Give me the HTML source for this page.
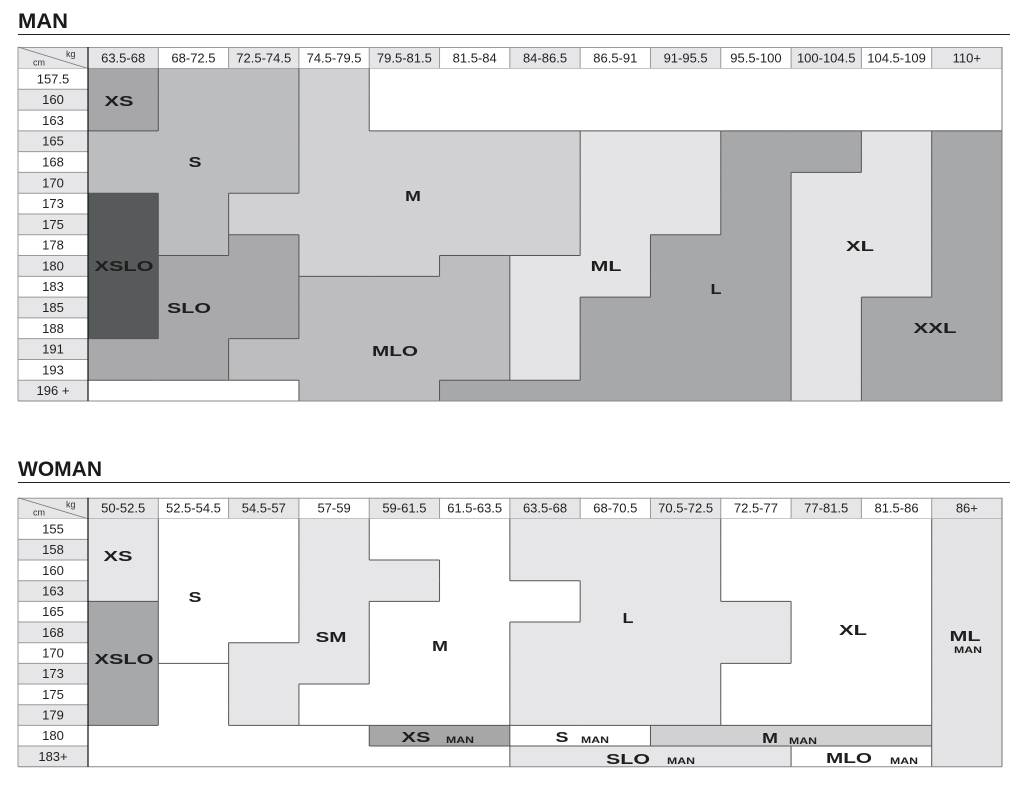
<!DOCTYPE html>
<html><head><meta charset="utf-8"><style>
body{margin:0;background:#fff;width:1022px;height:787px;overflow:hidden}
svg{display:block}
</style></head><body>
<svg id="s" width="1022" height="787" xmlns="http://www.w3.org/2000/svg" font-family="Liberation Sans, sans-serif">
<text x="18" y="28" font-size="21" font-weight="bold" fill="#1a1a1a" textLength="50" lengthAdjust="spacingAndGlyphs">MAN</text>
<line x1="18" y1="34.5" x2="1010" y2="34.5" stroke="#222" stroke-width="1"/>
<text x="18" y="476" font-size="21" font-weight="bold" fill="#1a1a1a" textLength="84" lengthAdjust="spacingAndGlyphs">WOMAN</text>
<line x1="18" y1="482.5" x2="1010" y2="482.5" stroke="#222" stroke-width="1"/>
</svg>
<script>
var NS="http://www.w3.org/2000/svg",S=document.getElementById('s');
function el(t,a,txt){var e=document.createElementNS(NS,t);for(var k in a)e.setAttribute(k,a[k]);if(txt!=null)e.textContent=txt;S.appendChild(e);return e;}
var X=[18,88];for(var i=1;i<=13;i++)X.push(88+i*914/13);
function table(top,hb,bottom,cols,rows,grid,colors,labels){
  var n=rows.length,rh=(bottom-hb)/n;
  function Y(r){return hb+r*rh;}
  for(var c=0;c<=13;c++){
    var g=(c==0||c%2==1);
    el('rect',{x:X[c],y:top,width:X[c+1]-X[c],height:hb-top,fill:g?'#e6e6e8':'#fff'});
    if(c>0)el('text',{x:(X[c]+X[c+1])/2,y:hb-6,'font-size':13,'text-anchor':'middle',fill:'#222'},cols[c-1]);
  }
  for(var c=1;c<=13;c++)el('line',{x1:X[c],y1:top,x2:X[c],y2:hb,stroke:'#999','stroke-width':1});
  el('line',{x1:18,y1:top+.5,x2:1002,y2:top+.5,stroke:'#999'});
  el('line',{x1:18,y1:hb,x2:1002,y2:hb,stroke:'#888'});
  el('line',{x1:18,y1:top,x2:88,y2:hb,stroke:'#777','stroke-width':.8});
  el('text',{x:66,y:top+10,'font-size':9,fill:'#333'},'kg');
  el('text',{x:33,y:hb-3,'font-size':9,fill:'#333'},'cm');
  for(var r=0;r<n;r++){
    el('rect',{x:18,y:Y(r),width:70,height:rh,fill:r%2?'#e6e6e8':'#fff'});
    el('text',{x:53,y:Y(r)+rh/2+4.5,'font-size':13,'text-anchor':'middle',fill:'#222'},rows[r]);
    if(r>0)el('line',{x1:18,y1:Y(r),x2:88,y2:Y(r),stroke:'#999'});
  }
  for(var r=0;r<n;r++)for(var c=0;c<13;c++){
    el('rect',{x:X[c+1],y:Y(r),width:X[c+2]-X[c+1]+.5,height:rh+.5,fill:colors[grid[r][c]]});
  }
  for(var r=0;r<n;r++)for(var c=0;c<13;c++){
    var g=grid[r][c];
    if(c<12&&grid[r][c+1]!=g)el('line',{x1:X[c+2],y1:Y(r),x2:X[c+2],y2:Y(r+1),stroke:'#555','stroke-width':1});
    if(r<n-1&&grid[r+1][c]!=g)el('line',{x1:X[c+1],y1:Y(r+1),x2:X[c+2],y2:Y(r+1),stroke:'#555','stroke-width':1});
  }
  el('line',{x1:18,y1:top,x2:18,y2:bottom,stroke:'#999'});
  el('line',{x1:1002,y1:top,x2:1002,y2:bottom,stroke:'#777'});
  el('line',{x1:18,y1:bottom,x2:1002,y2:bottom,stroke:'#888'});
  el('line',{x1:88,y1:top,x2:88,y2:bottom,stroke:'#111','stroke-width':1.2});
  labels.forEach(function(l){
    el('text',{x:l[1],y:l[2],'font-size':l[4]||14.5,'font-weight':'bold',fill:'#1e1e1e','text-anchor':'middle',textLength:l[3],lengthAdjust:'spacingAndGlyphs'},l[0]);
  });
}
var mg=["ABBEwwwwwwwww","ABBEwwwwwwwww","ABBEwwwwwwwww",
"BBBEEEEGGHHIJ","BBBEEEEGGHHIJ","BBBEEEEGGHIIJ",
"CBEEEEEGGHIIJ","CBEEEEEGGHIIJ","CBDEEEEGHHIIJ",
"CDDEEFGGHHIIJ","CDDFFFGGHHIIJ","CDDFFFGHHHIJJ",
"CDDFFFGHHHIJJ","DDFFFFGHHHIJJ","DDFFFFGHHHIJJ","vvvFFHHHHHIJJ"];
var mc={A:'#a7a7a9',B:'#bcbdbf',C:'#565a5a',D:'#a9a9ab',E:'#d1d1d3',F:'#bdbdc0',G:'#e4e4e6',H:'#a7a8aa',I:'#e4e4e6',J:'#a7a8aa',w:'#fff',v:'#fff'};
table(47,68.5,401,["63.5-68","68-72.5","72.5-74.5","74.5-79.5","79.5-81.5","81.5-84","84-86.5","86.5-91","91-95.5","95.5-100","100-104.5","104.5-109","110+"],
["157.5","160","163","165","168","170","173","175","178","180","183","185","188","191","193","196 +"],mg,mc,
[["XS",119,106,29],["S",195,167,13],["M",413,201,16],["XSLO",124,271,59],["SLO",189,313,44],["MLO",395,356,46],["ML",606,271,31],["L",716,294,11],["XL",860,251,28],["XXL",935,333,43]]);
var wg=["ABBSMMLLLXXXZ","ABBSMMLLLXXXZ","ABBSSMLLLXXXZ","ABBSSMMLLXXXZ",
"CBBSMMMLLLXXZ","CBBSMMLLLLXXZ","CBSSMMLLLLXXZ","CeSSMMLLLXXXZ",
"CeSMMMLLLXXXZ","CeSMMMLLLXXXZ","eeeeppqqrrrrZ","eeeeeessssttZ"];
var wc={A:'#e6e6e8',C:'#a7a8aa',B:'#fff',e:'#fff',S:'#e6e6e8',M:'#fff',L:'#e6e6e8',X:'#fff',Z:'#e4e4e6',p:'#a6a7a9',q:'#fff',r:'#d1d1d3',s:'#e6e6e8',t:'#fff'};
table(497.7,518.7,766.7,["50-52.5","52.5-54.5","54.5-57","57-59","59-61.5","61.5-63.5","63.5-68","68-70.5","70.5-72.5","72.5-77","77-81.5","81.5-86","86+"],
["155","158","160","163","165","168","170","173","175","179","180","183+"],wg,wc,
[["XS",118,561,29],["S",195,602,13],["SM",331,642,31],["M",440,651,16],["XSLO",124,664,59],["L",628,623,11],["XL",853,635,28],["ML",965,641,31],["MAN",968,653,28,9.5],
["XS",416,742,29],["MAN",460,743,28,9.5],["S",562,742,13],["MAN",595,743,28,9.5],["M",770,743,16],["MAN",803,744,28,9.5],
["SLO",628,764,44],["MAN",681,764,28,9.5],["MLO",849,763,46],["MAN",904,764,28,9.5]]);
</script>
</body></html>
